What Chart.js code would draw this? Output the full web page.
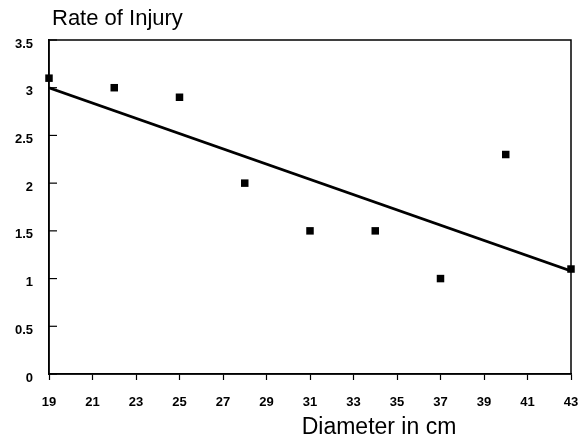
<!DOCTYPE html>
<html>
<head>
<meta charset="utf-8">
<script src="https://cdn.jsdelivr.net/npm/chart.js"></script>
<style>
  html, body { margin: 0; padding: 0; background: #fff; }
  #wrap { width: 587px; height: 442px; }
</style>
</head>
<body>
<div id="wrap"><canvas id="chart" width="587" height="442"></canvas></div>
<script>
// dados
const diametros = [19, 22, 25, 28, 31, 34, 37, 40, 43];
const taxas = [3.1, 3.0, 2.9, 2.0, 1.5, 1.5, 1.0, 2.3, 1.1];
const tendenciaX = [19, 43];
const tendenciaY = [3.0, 1.08];
const yTicks = [0, 0.5, 1, 1.5, 2, 2.5, 3, 3.5];
const xTicks = [19, 21, 23, 25, 27, 29, 31, 33, 35, 37, 39, 41, 43];

const FONTE = "'Liberation Sans', Arial, Helvetica, sans-serif";

// moldura + marcas internas do eixo Y + títulos
const molduraPlugin = {
  id: 'moldura',
  afterDraw(chart) {
    const { ctx, chartArea: a, scales } = chart;
    ctx.save();
    ctx.strokeStyle = '#000';
    ctx.lineWidth = 1.5;
    ctx.strokeRect(a.left, a.top, a.right - a.left, a.bottom - a.top);
    // marcas do eixo Y apontando para dentro
    ctx.lineWidth = 1.2;
    yTicks.forEach(v => {
      const y = scales.y.getPixelForValue(v);
      ctx.beginPath();
      ctx.moveTo(a.left, y);
      ctx.lineTo(a.left + 8, y);
      ctx.stroke();
    });
    ctx.fillStyle = '#000';
    ctx.textBaseline = 'middle';
    ctx.textAlign = 'left';
    ctx.font = `22px ${FONTE}`;
    ctx.fillText('Rate of Injury', 52, 19);
    ctx.textAlign = 'center';
    ctx.font = `23px ${FONTE}`;
    ctx.fillText('Diameter in cm', 379, 428);
    ctx.restore();
  }
};

new Chart(document.getElementById('chart'), {
  type: 'scatter',
  data: {
    datasets: [
      {
        label: 'Rate of Injury',
        data: diametros.map((x, i) => ({ x, y: taxas[i] })),
        backgroundColor: '#000',
        borderColor: '#000',
        pointStyle: 'rect',
        pointRadius: 5.3,
        borderWidth: 0,
        clip: false
      },
      {
        type: 'line',
        label: 'Tendência',
        data: tendenciaX.map((x, i) => ({ x, y: tendenciaY[i] })),
        borderColor: '#000',
        borderWidth: 2.8,
        pointRadius: 0,
        fill: false
      }
    ]
  },
  options: {
    responsive: false,
    animation: false,
    devicePixelRatio: 1,
    layout: { padding: { top: 40, right: 16, left: 0, bottom: 0 } },
    plugins: {
      legend: { display: false },
      tooltip: { enabled: false },
      title: { display: false }
    },
    scales: {
      x: {
        type: 'linear',
        min: 19,
        max: 43,
        afterBuildTicks: (s) => { s.ticks = xTicks.map(v => ({ value: v })); },
        afterFit: (s) => { s.height = 68; s.paddingLeft = 0; s.paddingRight = 0; },
        grid: { drawOnChartArea: false, tickLength: 6, color: '#000', tickWidth: 1.2 },
        border: { display: true, color: '#000', width: 1.5 },
        ticks: {
          color: '#000',
          padding: 15,
          maxRotation: 0,
          font: { family: FONTE, size: 13, weight: 'bold' }
        }
      },
      y: {
        min: 0,
        max: 3.5,
        afterBuildTicks: (s) => { s.ticks = yTicks.map(v => ({ value: v })); },
        afterFit: (s) => { s.width = 49; s.paddingTop = 0; s.paddingBottom = 0; },
        grid: { drawOnChartArea: false, drawTicks: false },
        border: { display: true, color: '#000', width: 1.5 },
        ticks: {
          color: '#000',
          padding: 16,
          labelOffset: 4,
          callback: (v) => String(v),
          font: { family: FONTE, size: 13, weight: 'bold' }
        }
      }
    }
  },
  plugins: [molduraPlugin]
});
</script>
</body>
</html>
